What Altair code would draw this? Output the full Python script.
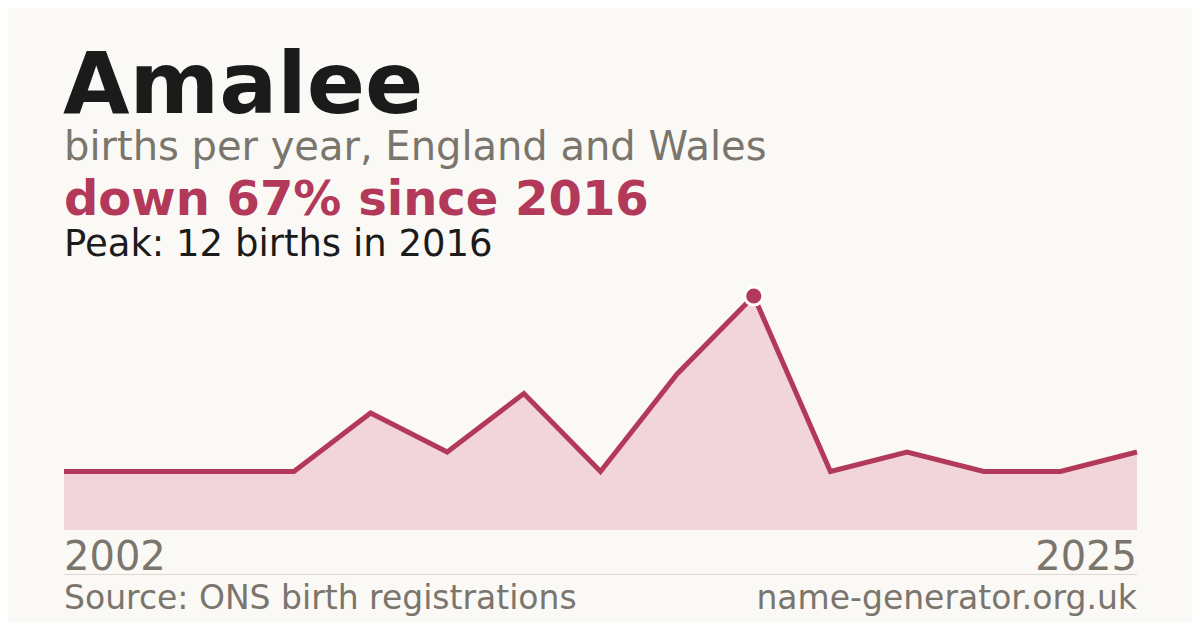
import altair as alt
import pandas as pd

# Data
idx = list(range(15))
births = [3, 3, 3, 3, 6, 4, 7, 3, 8, 12, 3, 4, 3, 3, 4]
peak_index = 9
first_year = "2002"
last_year = "2025"

title_text = "Amalee"
subtitle_text = "births per year, England and Wales"
change_text = "down 67% since 2016"
peak_text = "Peak: 12 births in 2016"
source_text = "Source: ONS birth registrations"
site_text = "name-generator.org.uk"

BG = "#faf9f5"
RED = "#b3395a"
FILL = "#f2d5db"
GREY = "#7a756d"
DARK = "#1b1b1b"
FONT = "DejaVu Sans"

df = pd.DataFrame({"i": idx, "births": births})
peak_df = df[df["i"] == peak_index]

W, H = 1184, 614
xs = alt.Scale(domain=[0, 14], range=[56, 1129], nice=False, zero=False)
ys = alt.Scale(domain=[0, 12], range=[522, 288], nice=False, zero=True)

X = alt.X("i:Q", scale=xs, axis=None)
Y = alt.Y("births:Q", scale=ys, axis=None)

base = alt.Chart(df)
area = base.mark_area(color=FILL, opacity=1).encode(x=X, y=Y, y2=alt.Y2(datum=0))
line = base.mark_line(color=RED, strokeWidth=5, strokeJoin="miter").encode(x=X, y=Y)
peak = alt.Chart(peak_df).mark_circle(
    fill=RED, stroke="white", strokeWidth=3, opacity=1, fillOpacity=1, strokeOpacity=1
).encode(x=X, y=Y, size=alt.value(330))

def txt(t, x, y, size, color, weight="normal", align="left"):
    return alt.Chart(pd.DataFrame({"t": [t]})).mark_text(
        font=FONT, fontSize=size, fontWeight=weight, color=color, align=align, baseline="alphabetic"
    ).encode(text="t:N", x=alt.value(x), y=alt.value(y))

texts = [
    txt(title_text, 55, 105, 86, DARK, "bold"),
    txt(subtitle_text, 56, 152, 40, GREY),
    txt(change_text, 56, 207, 48, RED, "bold"),
    txt(peak_text, 56, 248, 37, DARK),
    txt(first_year, 56, 562, 40, GREY),
    txt(last_year, 1129, 562, 40, GREY, align="right"),
    txt(source_text, 56, 601, 33, GREY),
    txt(site_text, 1129, 601, 33, GREY, align="right"),
]

rule = alt.Chart(pd.DataFrame({"a": [0]})).mark_rule(color="#dcd9d2", strokeWidth=1).encode(
    x=alt.value(56), x2=alt.value(1129), y=alt.value(566.5)
)

chart = alt.layer(area, line, peak, rule, *texts).properties(
    width=W, height=H, padding=0, autosize=alt.AutoSizeParams(type="none"), background=BG
).configure_view(stroke=None)

chart.save("out.html", embed_options={"renderer": "svg", "actions": False})
